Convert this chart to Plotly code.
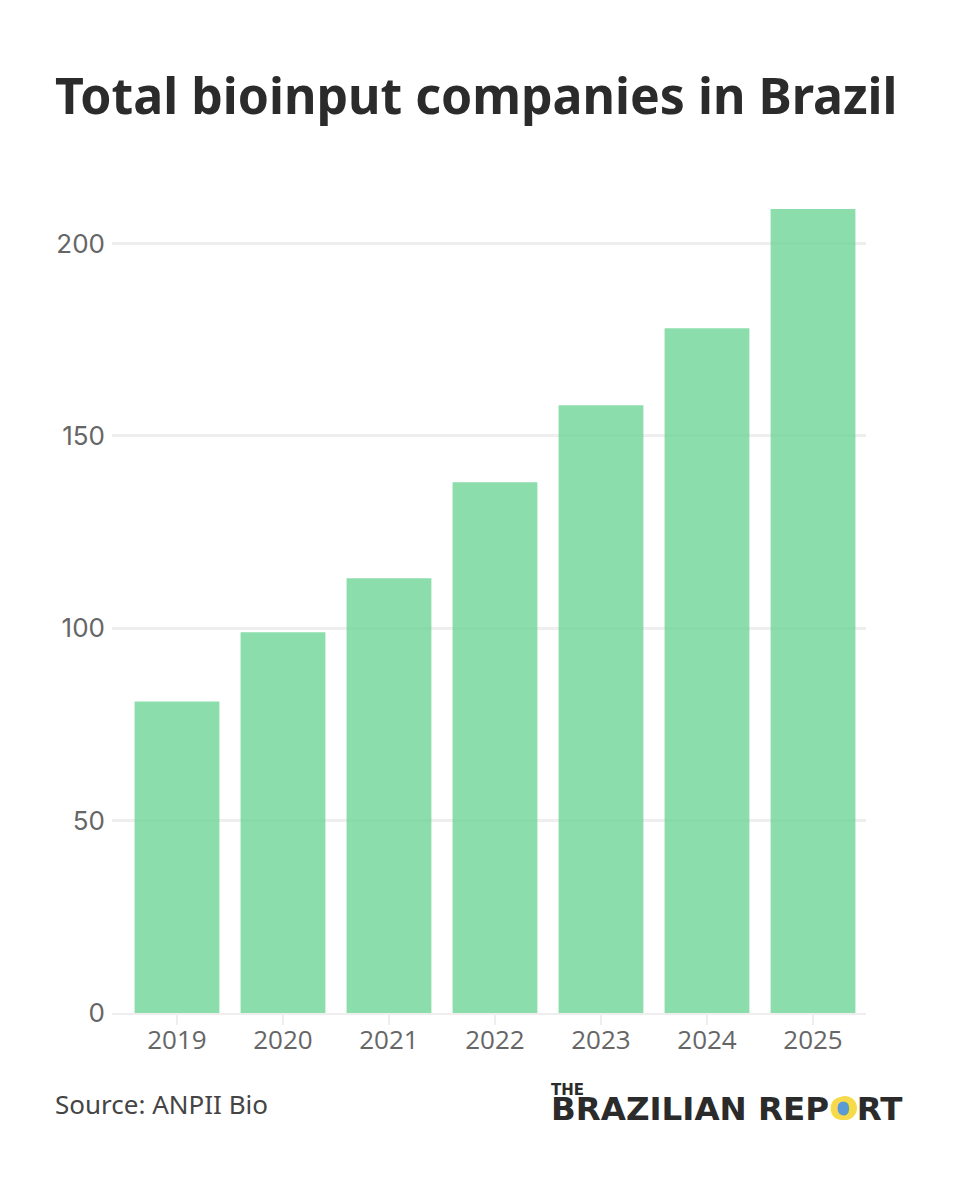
import plotly.graph_objects as go

years = ["2019", "2020", "2021", "2022", "2023", "2024", "2025"]
companies = [81, 99, 113, 138, 158, 178, 209]
y_ticks = [0, 50, 100, 150, 200]

# plot area in page pixels (the page adds 8px of body margin)
L, T, W, H = 104, 201, 754, 804


def px(x):
    return (x - 8 - L) / W


def py(y):
    return 1 - (y - 8 - T) / H


def logo_circle(cx, cy, r, color):
    fig.add_shape(type="circle", xref="paper", yref="paper", x0=px(cx - r), x1=px(cx + r),
                  y0=py(cy + r), y1=py(cy - r), fillcolor=color, line_width=0, layer="above")


fig = go.Figure()
fig.add_trace(go.Bar(x=list(range(len(years))), y=companies, marker_color="rgba(110,213,150,0.8)",
                     marker_line_width=0, width=0.8))

fig.update_layout(
    width=960, height=1200,
    margin=dict(l=L, r=960 - L - W, t=T, b=1200 - T - H),
    paper_bgcolor="white", plot_bgcolor="white",
    showlegend=False,
    title=dict(text="<b>Total bioinput companies in Brazil</b>", x=47 / 960, xanchor="left",
               y=1 - 88 / 1200, yanchor="middle", font=dict(family="Noto Sans", size=50, color="#2b2b2b")),
)
fig.update_xaxes(range=[-0.613, 6.5], tickvals=list(range(len(years))), ticktext=years,
                 showgrid=False, showline=True, linecolor="#eeeeee", linewidth=2,
                 ticks="outside", ticklen=10, tickwidth=2, tickcolor="#eeeeee", ticklabelstandoff=-7,
                 tickfont=dict(family="Open Sans", size=26, color="#666666"))
fig.update_yaxes(range=[0, 209], tickvals=y_ticks, gridcolor="#eeeeee", gridwidth=3, zeroline=False,
                 ticks="", ticklabelstandoff=6,
                 tickfont=dict(family="Inter", size=26, color="#666666"))

fig.add_annotation(text="Source: ANPII Bio", xref="paper", yref="paper", x=px(53), y=py(1104),
                   xanchor="left", yanchor="middle", showarrow=False,
                   font=dict(family="Noto Sans", size=26, color="#444444"))

# logo: yellow ring with a blue ball behind the O
logo_circle(845, 1108, 12, "#f7d94c")
logo_circle(845, 1108, 8, "#5b9bd5")
fig.add_annotation(text='<b><span style="font-size:15px">THE</span><br>'
                        '<span style="font-size:32.5px">BRAZILIAN REP'
                        '<span style="color:#f7d94c">O</span>RT</span></b>',
                   xref="paper", yref="paper", x=px(549), y=py(1104),
                   xanchor="left", yanchor="middle", align="left", showarrow=False,
                   font=dict(family="DejaVu Sans", size=19, color="#2b2b2b"))

fig.write_html("out.html")
